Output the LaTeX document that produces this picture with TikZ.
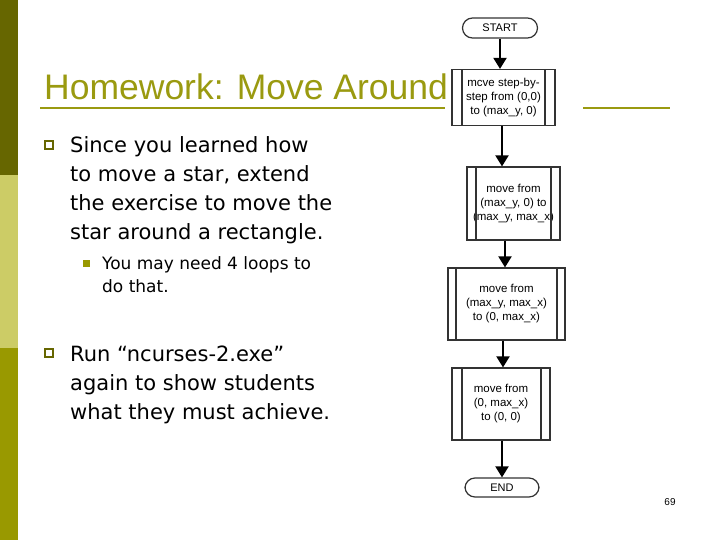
\documentclass[tikz,border=0pt]{standalone}
\usepackage{fontspec}
\setmainfont{DejaVu Sans}
\newfontfamily\arialf{Liberation Sans}
\usetikzlibrary{arrows.meta}
\definecolor{darkol}{HTML}{666600}
\definecolor{lightol}{HTML}{CCCC66}
\definecolor{midol}{HTML}{999900}
\definecolor{titol}{HTML}{9A9A10}
\tikzset{
 proc/.style={draw=black!80,line width=1.2pt,fill=white,minimum height=#1,inner sep=0pt},
 term/.style={draw=black!80,line width=1.2pt,fill=white,rounded corners=10pt,minimum width=75pt,minimum height=20pt,font=\arialf\fontsize{11}{12}\selectfont},
 flow/.style={line width=2pt,-{Triangle[length=11pt,width=13pt]}},
 txt/.style={anchor=base west,inner sep=0pt,font=\fontsize{21}{25}\selectfont},
 ftxt/.style={font=\arialf\fontsize{11.5}{14}\selectfont,align=center,inner sep=0pt}
}
\begin{document}
\begin{tikzpicture}[x=1pt,y=-1pt]
\useasboundingbox (0,0) rectangle (720,540);
\fill[darkol] (0,0) rectangle (18,175);
\fill[lightol] (0,175) rectangle (18,348);
\fill[midol] (0,348) rectangle (18,540);
\node[anchor=base west,inner sep=0pt,text=titol,font=\arialf\fontsize{35.5}{40}\selectfont] (title) at (44,100) {Homework: Move Around};
\draw[titol,line width=2.5pt] (40,108) -- (445,108) (583,108) -- (670,108);
% bullets
\node[draw=darkol,line width=1.5pt,minimum size=8pt,inner sep=0pt] (b1) at (49,145) {};
\node[txt] (t1) at (70,153) {Since you learned how};
\node[txt] (t2) at (70,182) {to move a star, extend};
\node[txt] (t3) at (70,211) {the exercise to move the};
\node[txt] (t4) at (70,240) {star around a rectangle.};
\node[fill=midol,minimum size=7pt,inner sep=0pt] (b2) at (86,263) {};
\node[txt,font=\fontsize{17}{20}\selectfont] (s1) at (102,269) {You may need 4 loops to};
\node[txt,font=\fontsize{17}{20}\selectfont] (s2) at (102,292) {do that.};
\node[draw=darkol,line width=1.5pt,minimum size=8pt,inner sep=0pt] (b3) at (49,353) {};
\node[txt] (r1) at (70,361) {Run “ncurses-2.exe”};
\node[txt] (r2) at (70,390) {again to show students};
\node[txt] (r3) at (70,419) {what they must achieve.};
% flowchart
\node[term] (start) at (500,28) {START};
\node[proc=56pt,minimum width=103pt] (p1) at (503.5,97.5) {};
\node[ftxt] (l1) at (p1) {mcve step-by-\\step from (0,0)\\to (max\_y, 0)};
\draw[black!80,line width=1.2pt] (462,70) -- (462,125) (545,70) -- (545,125);
\node[proc=73pt,minimum width=93pt] (p2) at (513.5,203.5) {};
\node[ftxt] (l2) at (p2) {move from\\(max\_y, 0) to\\(max\_y, max\_x)};
\draw[black!80,line width=1.2pt] (476,167) -- (476,240) (551,167) -- (551,240);
\node[proc=72pt,minimum width=117pt] (p3) at (506.5,304) {};
\node[ftxt] (l3) at (p3) {move from\\(max\_y, max\_x)\\to (0, max\_x)};
\draw[black!80,line width=1.2pt] (456,268) -- (456,340) (557,268) -- (557,340);
\node[proc=72pt,minimum width=98pt] (p4) at (501,404) {};
\node[ftxt] (l4) at (p4) {move from\\(0, max\_x)\\to (0, 0)};
\draw[black!80,line width=1.2pt] (462,368) -- (462,440) (541,368) -- (541,440);
\node[term,minimum width=74pt,minimum height=19pt] (end) at (502,487.5) {END};
\draw[flow] (start.south -| 500,0) -- (p1.north -| 500,0);
\draw[flow] (p1.south -| 502,0) -- (p2.north -| 502,0);
\draw[flow] (p2.south -| 505,0) -- (p3.north -| 505,0);
\draw[flow] (p3.south -| 503,0) -- (p4.north -| 503,0);
\draw[flow] (p4.south -| 502,0) -- (end.north -| 502,0);
\node[font=\arialf\fontsize{10}{12}\selectfont] (num) at (670,502) {69};
\end{tikzpicture}
\end{document}
